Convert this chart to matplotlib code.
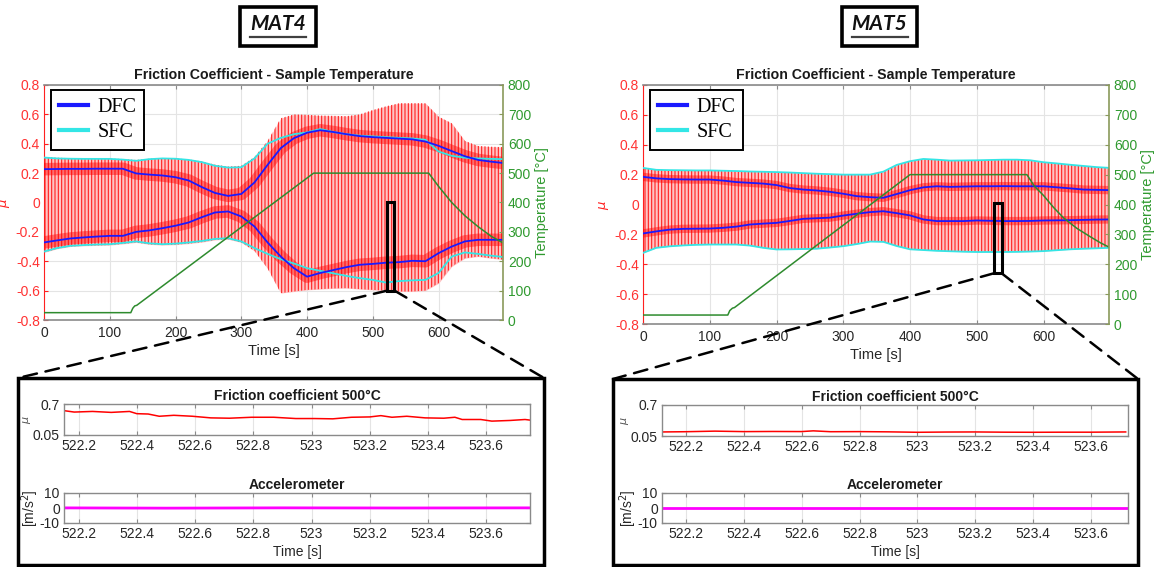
import numpy as np
import matplotlib.pyplot as plt
from matplotlib.patches import Rectangle, ConnectionPatch
from matplotlib.lines import Line2D

plt.rcParams['font.family'] = ['Liberation Sans', 'DejaVu Sans']
plt.rcParams['hatch.linewidth'] = 0.8
plt.rcParams['axes.unicode_minus'] = False

# friction / temperature runs, sampled every 20 s
t_run = np.arange(0, 701, 20)

# MAT4
dfc_up4 = [0.227, 0.228, 0.229, 0.229, 0.230, 0.230, 0.230, 0.198, 0.190, 0.184, 0.172, 0.150,
           0.105, 0.065, 0.045, 0.058, 0.136, 0.256, 0.370, 0.438, 0.475, 0.492, 0.480, 0.465,
           0.452, 0.445, 0.440, 0.435, 0.430, 0.415, 0.386, 0.350, 0.315, 0.290, 0.278, 0.268]
dfc_lo4 = [-0.272, -0.258, -0.245, -0.238, -0.232, -0.227, -0.227, -0.200, -0.190, -0.175, -0.158, -0.136,
           -0.100, -0.068, -0.061, -0.095, -0.163, -0.272, -0.368, -0.447, -0.505, -0.480, -0.460, -0.440,
           -0.424, -0.418, -0.410, -0.406, -0.397, -0.400, -0.345, -0.300, -0.265, -0.254, -0.254, -0.254]
sfc_up4 = [0.306, 0.300, 0.298, 0.297, 0.297, 0.297, 0.292, 0.284, 0.295, 0.300, 0.298, 0.290,
           0.275, 0.250, 0.238, 0.240, 0.300, 0.400, 0.440, 0.465, 0.477, 0.500, 0.480, 0.465,
           0.455, 0.450, 0.445, 0.440, 0.436, 0.427, 0.347, 0.318, 0.305, 0.300, 0.297, 0.295]
sfc_lo4 = [-0.334, -0.310, -0.295, -0.290, -0.286, -0.284, -0.275, -0.265, -0.278, -0.284, -0.280, -0.272,
           -0.262, -0.248, -0.243, -0.265, -0.310, -0.350, -0.386, -0.415, -0.447, -0.465, -0.482, -0.500,
           -0.515, -0.527, -0.545, -0.535, -0.530, -0.527, -0.480, -0.368, -0.340, -0.350, -0.362, -0.372]
peak_up4 = [0.310, 0.305, 0.302, 0.300, 0.300, 0.300, 0.296, 0.290, 0.298, 0.303, 0.300, 0.293,
            0.280, 0.258, 0.245, 0.250, 0.310, 0.420, 0.574, 0.600, 0.597, 0.592, 0.590, 0.588,
            0.600, 0.630, 0.655, 0.676, 0.676, 0.676, 0.585, 0.540, 0.420, 0.385, 0.380, 0.377]
peak_lo4 = [-0.340, -0.315, -0.300, -0.295, -0.292, -0.290, -0.282, -0.272, -0.285, -0.290, -0.287, -0.280,
            -0.270, -0.255, -0.250, -0.272, -0.330, -0.450, -0.617, -0.606, -0.595, -0.590, -0.585, -0.583,
            -0.590, -0.595, -0.600, -0.606, -0.606, -0.600, -0.550, -0.436, -0.380, -0.368, -0.380, -0.390]
temp_t4 = [0, 132, 135, 138, 141, 410, 585, 600, 620, 640, 660, 680, 700]
temp4 = [25, 25, 40, 48, 50, 500, 500, 455, 400, 355, 318, 285, 260]

# MAT5
dfc_up5 = [0.185, 0.175, 0.170, 0.168, 0.167, 0.167, 0.160, 0.150, 0.145, 0.140, 0.130, 0.110,
           0.100, 0.094, 0.085, 0.072, 0.056, 0.049, 0.045, 0.070, 0.096, 0.115, 0.122, 0.118,
           0.120, 0.122, 0.122, 0.123, 0.122, 0.122, 0.122, 0.115, 0.108, 0.100, 0.098, 0.096]
dfc_lo5 = [-0.194, -0.180, -0.168, -0.163, -0.162, -0.161, -0.156, -0.148, -0.134, -0.128, -0.123, -0.110,
           -0.096, -0.092, -0.088, -0.074, -0.062, -0.051, -0.045, -0.058, -0.073, -0.100, -0.111, -0.111,
           -0.111, -0.107, -0.109, -0.111, -0.111, -0.110, -0.107, -0.106, -0.105, -0.103, -0.101, -0.100]
sfc_up5 = [0.245, 0.232, 0.230, 0.229, 0.228, 0.228, 0.226, 0.224, 0.221, 0.219, 0.217, 0.214,
           0.210, 0.206, 0.203, 0.200, 0.200, 0.200, 0.220, 0.265, 0.290, 0.305, 0.300, 0.294,
           0.295, 0.296, 0.298, 0.300, 0.300, 0.296, 0.283, 0.275, 0.266, 0.258, 0.250, 0.245]
sfc_lo5 = [-0.324, -0.290, -0.280, -0.274, -0.270, -0.268, -0.268, -0.268, -0.275, -0.290, -0.301, -0.300,
           -0.298, -0.296, -0.288, -0.279, -0.265, -0.248, -0.250, -0.278, -0.300, -0.305, -0.310, -0.313,
           -0.316, -0.318, -0.318, -0.318, -0.317, -0.315, -0.312, -0.306, -0.300, -0.296, -0.293, -0.290]
temp_t5 = [0, 127, 130, 134, 137, 400, 575, 586, 600, 615, 630, 650, 670, 685, 700]
temp5 = [30, 30, 45, 53, 55, 500, 500, 462, 430, 390, 355, 320, 292, 272, 255]

# zoomed window at 500 degC
win_t4 = [522.0, 533.0]
win_mu4 = [-0.60, 0.0]
win_t5 = [526.0, 537.0]
win_mu5 = [-0.46, 0.01]

zoom_t4 = [522.153, 522.185, 522.248, 522.312, 522.375, 522.40, 522.439, 522.477, 522.527, 522.591,
           522.654, 522.718, 522.794, 522.87, 522.946, 523.01, 523.073, 523.137, 523.2, 523.238,
           523.276, 523.327, 523.39, 523.454, 523.492, 523.517, 523.581, 523.619, 523.682, 523.733, 523.752]
zoom_mu4 = [0.558, 0.531, 0.544, 0.524, 0.544, 0.497, 0.49, 0.443, 0.463, 0.443,
            0.409, 0.402, 0.422, 0.422, 0.395, 0.395, 0.389, 0.422, 0.429, 0.456,
            0.422, 0.443, 0.409, 0.402, 0.422, 0.375, 0.375, 0.341, 0.355, 0.375, 0.361]
zoom_t5 = [522.12, 522.2, 522.3, 522.4, 522.5, 522.6, 522.64, 522.7, 522.8, 522.9,
           523.0, 523.1, 523.2, 523.3, 523.4, 523.5, 523.6, 523.72]
zoom_mu5 = [0.135, 0.14, 0.152, 0.142, 0.145, 0.143, 0.158, 0.14, 0.142, 0.137,
            0.128, 0.133, 0.135, 0.13, 0.128, 0.13, 0.13, 0.135]
acc_t = [522.1, 522.5, 522.9, 523.3, 523.8]
acc4 = [0.1, -0.1, 0.1, 0.0, 0.1]
acc5 = [0.0, 0.0, 0.0, 0.0, 0.0]

mu_ticks = [-0.8, -0.6, -0.4, -0.2, 0, 0.2, 0.4, 0.6, 0.8]
mu_labels = ['-0.8', '-0.6', '-0.4', '-0.2', '0', '0.2', '0.4', '0.6', '0.8']
zoom_ticks = [522.2, 522.4, 522.6, 522.8, 523.0, 523.2, 523.4, 523.6]
zoom_labels = ['522.2', '522.4', '522.6', '522.8', '523', '523.2', '523.4', '523.6']

W, H = 1156, 567
RED = '#ff2020'
GREEN = '#2e8b2e'
GREY = '#8a8a8a'
TXT = '#262626'

fig = plt.figure(figsize=(W / 100, H / 100), dpi=100)


def fbox(x0, y0, x1, y1):
    return [x0 / W, 1 - y1 / H, (x1 - x0) / W, (y1 - y0) / H]


def main_panel(box, dfc_up, dfc_lo, sfc_up, sfc_lo, peak_up, peak_lo, temp_t, temp, band):
    ax = fig.add_axes(box)
    ax.fill_between(t_run, peak_lo, peak_up, color='#ffc4c4', lw=0, zorder=1)
    ax.fill_between(t_run, peak_lo, peak_up, facecolor='none', edgecolor=RED,
                    hatch='|||||', lw=0, zorder=2)
    ax.plot(t_run, dfc_up, color='red', lw=band, alpha=0.45, zorder=3, solid_capstyle='butt')
    ax.plot(t_run, dfc_lo, color='red', lw=band, alpha=0.45, zorder=3, solid_capstyle='butt')
    ax.plot(t_run, dfc_up, color='#1a1aff', lw=1.3, zorder=5, label='DFC')
    ax.plot(t_run, sfc_up, color='#33e6e6', lw=1.3, zorder=4, label='SFC')
    ax.plot(t_run, dfc_lo, color='#1a1aff', lw=1.3, zorder=5)
    ax.plot(t_run, sfc_lo, color='#33e6e6', lw=1.3, zorder=4)

    ax.set_xlim(0, 698)
    ax.set_ylim(-0.8, 0.8)
    ax.set_xticks(range(0, 601, 100))
    ax.set_yticks(mu_ticks)
    ax.set_yticklabels(mu_labels)
    ax.grid(True, color='#e4e4e4', lw=0.8)
    ax.set_axisbelow(True)
    ax.tick_params(axis='y', colors=RED, labelcolor='#ff3333', direction='in', length=3,
                   labelsize=10, pad=3)
    ax.tick_params(axis='x', colors=GREY, labelcolor=TXT, direction='in', length=3,
                   labelsize=10, top=True, pad=4)
    for s in ('top', 'bottom'):
        ax.spines[s].set_color(GREY)
        ax.spines[s].set_linewidth(1.2)
    ax.spines['left'].set_color(RED)
    ax.spines['right'].set_visible(False)
    ax.set_ylabel('$\\mu$', color=RED, fontsize=9.5, labelpad=3)
    ax.set_xlabel('Time [s]', color=TXT, fontsize=10.5, labelpad=3)
    ax.set_title('Friction Coefficient - Sample Temperature', fontsize=10.2,
                 fontweight='bold', color='#1a1a1a', pad=4)
    leg = ax.legend(loc='upper left', bbox_to_anchor=(0.015, 0.979), borderaxespad=0,
                    prop={'family': 'Liberation Serif', 'size': 14.5}, fancybox=False,
                    framealpha=1, edgecolor='black', handlelength=1.45, handletextpad=0.45,
                    borderpad=0.4, labelspacing=0.3)
    leg.get_frame().set_linewidth(1.4)
    for h in leg.get_lines():
        h.set_linewidth(3)
    leg.set_zorder(30)

    ax2 = ax.twinx()
    ax2.plot(temp_t, temp, color=GREEN, lw=1.1)
    ax2.set_ylim(0, 800)
    ax2.set_yticks(range(0, 801, 100))
    ax2.tick_params(axis='y', colors='#8a9a5b', labelcolor='#2f9a2f', direction='in',
                    length=3, labelsize=10)
    ax2.spines['right'].set_color('#8a9a5b')
    ax2.spines['right'].set_linewidth(1.2)
    for s in ('top', 'bottom', 'left'):
        ax2.spines[s].set_visible(False)
    ax2.set_ylabel('Temperature [°C]', color='#2f9a2f', fontsize=10.5, labelpad=3)
    return ax


def zoom_panel(frame, box1, box2, zt, zmu, xlim, acc):
    fig.add_artist(Rectangle((frame[0], frame[1]), frame[2], frame[3], transform=fig.transFigure,
                             fill=False, ec='black', lw=2.5))
    a1 = fig.add_axes(box1)
    a1.plot(zt, zmu, color='red', lw=1.1)
    a1.set_ylim(0.05, 0.7)
    a1.set_yticks([0.05, 0.7])
    a1.set_yticklabels(['0.05', '0.7'])
    a1.set_ylabel('$\\mu$', color='#555555', fontsize=8, labelpad=0)
    a1.set_title('Friction coefficient 500°C', fontsize=10, fontweight='bold',
                 color='#1a1a1a', pad=3)

    a2 = fig.add_axes(box2)
    a2.plot(acc_t, acc, color='#ff00ff', lw=2)
    a2.set_ylim(-10, 10)
    a2.set_yticks([-10, 0, 10])
    a2.set_ylabel('[m/s$^2$]', color=TXT, fontsize=10, labelpad=-1)
    a2.set_title('Accelerometer', fontsize=10, fontweight='bold', color='#1a1a1a', pad=3)
    a2.set_xlabel('Time [s]', color=TXT, fontsize=10, labelpad=3)

    for a in (a1, a2):
        a.set_xlim(*xlim)
        a.set_xticks(zoom_ticks)
        a.set_xticklabels(zoom_labels)
        a.grid(True, color='#e4e4e4', lw=0.8)
        a.set_axisbelow(True)
        a.tick_params(colors=GREY, labelcolor=TXT, direction='in', length=3, labelsize=10,
                      top=True, right=True, pad=3)
        for s in a.spines.values():
            s.set_color(GREY)
            s.set_linewidth(1.0)


def connect(ax, wt, wmu, frame):
    ax.add_patch(Rectangle((wt[0], wmu[0]), wt[1] - wt[0], wmu[1] - wmu[0], fill=False,
                           ec='black', lw=2.2, zorder=20, clip_on=False))
    top = frame[1] + frame[3]
    for xa, xb in ((wt[0], frame[0]), (wt[1], frame[0] + frame[2])):
        con = ConnectionPatch(xyA=(xa, wmu[0]), coordsA=ax.transData, xyB=(xb, top),
                              coordsB=fig.transFigure, color='black', lw=1.8,
                              ls=(0, (5.5, 3.5)), zorder=25)
        fig.add_artist(con)


def mat_label(x0, y0, x1, y1, name):
    fig.add_artist(Rectangle((x0 / W, 1 - y1 / H), (x1 - x0) / W, (y1 - y0) / H,
                             transform=fig.transFigure, fill=False, ec='black', lw=2.6))
    xc = (x0 + x1) / 2 / W
    fig.text(xc, 1 - 24.5 / H, name, ha='center', va='center', fontsize=15,
             fontweight='bold', style='italic', family='Lato', color='#111111')
    fig.add_artist(Line2D([xc - 28 / W, xc + 28 / W], [1 - 37 / H, 1 - 37 / H],
                          transform=fig.transFigure, color='#404040', lw=1.6))


ax4 = main_panel(fbox(44, 85, 503, 320), dfc_up4, dfc_lo4, sfc_up4, sfc_lo4,
                 peak_up4, peak_lo4, temp_t4, temp4, 9)
ax5 = main_panel(fbox(643, 85, 1109, 324), dfc_up5, dfc_lo5, sfc_up5, sfc_lo5,
                 sfc_up5, sfc_lo5, temp_t5, temp5, 6)

frame4 = fbox(18, 378, 544, 565)
frame5 = fbox(613, 379, 1138, 565)
zoom_panel(frame4, fbox(64, 404, 530, 435), fbox(64, 493, 530, 523),
           zoom_t4, zoom_mu4, (522.15, 523.75), acc4)
zoom_panel(frame5, fbox(662, 405, 1128, 436), fbox(662, 493, 1128, 523),
           zoom_t5, zoom_mu5, (522.117, 523.728), acc5)

connect(ax4, win_t4, win_mu4, frame4)
connect(ax5, win_t5, win_mu5, frame5)

mat_label(240, 7, 316, 46, 'MAT4')
mat_label(842, 7, 917, 46, 'MAT5')

fig.savefig('out.png', dpi=100, facecolor='white')
